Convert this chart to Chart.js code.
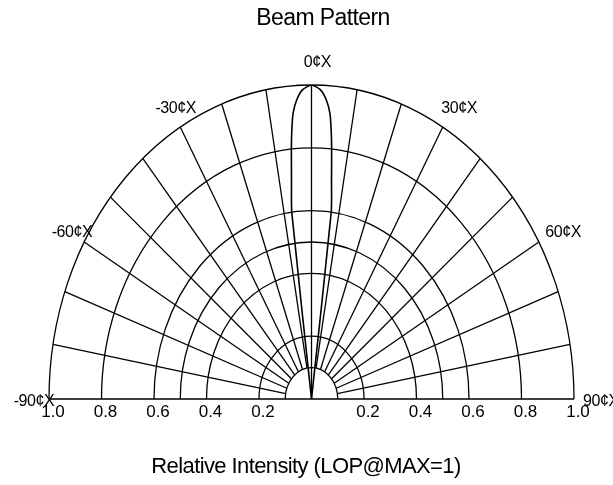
<!DOCTYPE html>
<html>
<head>
<meta charset="utf-8">
<script src="https://cdn.jsdelivr.net/npm/chart.js@4/dist/chart.umd.min.js"></script>
<style>
  html, body { margin: 0; padding: 0; background: #fff; }
  #wrap { position: relative; width: 613px; height: 485px; }
</style>
</head>
<body>
<div id="wrap"><canvas id="beamChart"></canvas></div>
<script>
// beam pattern (angle in degrees, relative intensity)
const beamAngles = [-7, -7.2, -6.25, -5.5, -5, -4.4, -3.4, -2, 0, 2, 3.4, 4.4, 5, 5.5, 6.25, 7.2, 7];
const beamIntensity = [0, 0.6, 0.7, 0.8, 0.86, 0.913, 0.954, 0.985, 1, 0.985, 0.954, 0.913, 0.86, 0.8, 0.7, 0.6, 0];

// polar grid
const ringValues = [0.1, 0.2, 0.4, 0.5, 0.6, 0.8, 1.0];
const spokeAngles = [-80, -70, -60, -50, -40, -30, -20, -10, 10, 20, 30, 40, 50, 60, 70, 80];

// labels
const tickValues = [-1, -0.8, -0.6, -0.4, -0.2, 0.2, 0.4, 0.6, 0.8, 1];
const tickLabels = ['1.0', '0.8', '0.6', '0.4', '0.2', '0.2', '0.4', '0.6', '0.8', '1.0'];
const labelAngles = [-90, -60, -30, 0, 30, 60, 90];
const angleLabels = ['-90¢X', '-60¢X', '-30¢X', '0¢X', '30¢X', '60¢X', '90¢X'];

const rad = d => d * Math.PI / 180;

const beamPoints = beamAngles.map((a, i) => ({
  x: beamIntensity[i] * Math.sin(rad(a)),
  y: beamIntensity[i] * Math.cos(rad(a))
}));

const polarGrid = {
  id: 'polarGrid',
  beforeDatasetsDraw(chart) {
    const { ctx, scales: { x, y } } = chart;
    const cx = x.getPixelForValue(0), cy = y.getPixelForValue(0);
    ctx.save();
    ctx.strokeStyle = '#000';
    ctx.lineWidth = 1.3;
    // rings
    ringValues.forEach(r => {
      const rx = x.getPixelForValue(r) - cx;
      const ry = cy - y.getPixelForValue(r);
      ctx.beginPath();
      ctx.ellipse(cx, cy, rx, ry, 0, Math.PI, 2 * Math.PI);
      ctx.stroke();
    });
    // spokes from inner ring to outer ring
    const inner = ringValues[0], outer = ringValues[ringValues.length - 1];
    spokeAngles.forEach(a => {
      const s = Math.sin(rad(a)), c = Math.cos(rad(a));
      ctx.beginPath();
      ctx.moveTo(x.getPixelForValue(inner * s), y.getPixelForValue(inner * c));
      ctx.lineTo(x.getPixelForValue(outer * s), y.getPixelForValue(outer * c));
      ctx.stroke();
    });
    // 0 deg axis and baseline
    ctx.beginPath();
    ctx.moveTo(cx, cy);
    ctx.lineTo(cx, y.getPixelForValue(outer));
    ctx.moveTo(x.getPixelForValue(-outer), cy);
    ctx.lineTo(x.getPixelForValue(outer), cy);
    ctx.stroke();
    ctx.restore();
  },
  afterDraw(chart) {
    const { ctx, scales: { x, y } } = chart;
    const cy = y.getPixelForValue(0);
    ctx.save();
    ctx.fillStyle = '#000';
    ctx.textAlign = 'center';
    ctx.textBaseline = 'middle';

    ctx.font = '23px "Liberation Sans", Arial, sans-serif';
    ctx.letterSpacing = '-0.6px';
    ctx.fillText('Beam Pattern', 323, 19);

    ctx.font = '16px "Liberation Sans", Arial, sans-serif';
    ctx.letterSpacing = '-0.4px';
    labelAngles.forEach((a, i) => {
      const px = x.getPixelForValue(1.08 * Math.sin(rad(a))) + 6;
      const py = y.getPixelForValue(1.08 * Math.cos(rad(a))) + 3;
      ctx.fillText(angleLabels[i], px, py);
    });

    ctx.font = '17px "Liberation Sans", Arial, sans-serif';
    ctx.letterSpacing = '0px';
    tickValues.forEach((v, i) => {
      ctx.fillText(tickLabels[i], x.getPixelForValue(v) + 4, cy + 13);
    });

    ctx.font = '22px "Liberation Sans", Arial, sans-serif';
    ctx.letterSpacing = '-0.6px';
    ctx.fillText('Relative Intensity (LOP@MAX=1)', 306, 467);
    ctx.restore();
  }
};

new Chart(document.getElementById('beamChart'), {
  type: 'scatter',
  data: {
    datasets: [{
      label: 'Beam',
      data: beamPoints,
      showLine: true,
      borderColor: '#000',
      borderWidth: 1.6,
      pointRadius: 0,
      tension: 0.2
    }]
  },
  options: {
    responsive: true,
    maintainAspectRatio: false,
    animation: false,
    layout: { padding: { left: 49, right: 39, top: 85, bottom: 86 } },
    plugins: {
      legend: { display: false },
      tooltip: { enabled: false }
    },
    scales: {
      x: { type: 'linear', min: -1, max: 1, display: false },
      y: { type: 'linear', min: 0, max: 1, display: false }
    }
  },
  plugins: [polarGrid]
});
</script>
</body>
</html>
